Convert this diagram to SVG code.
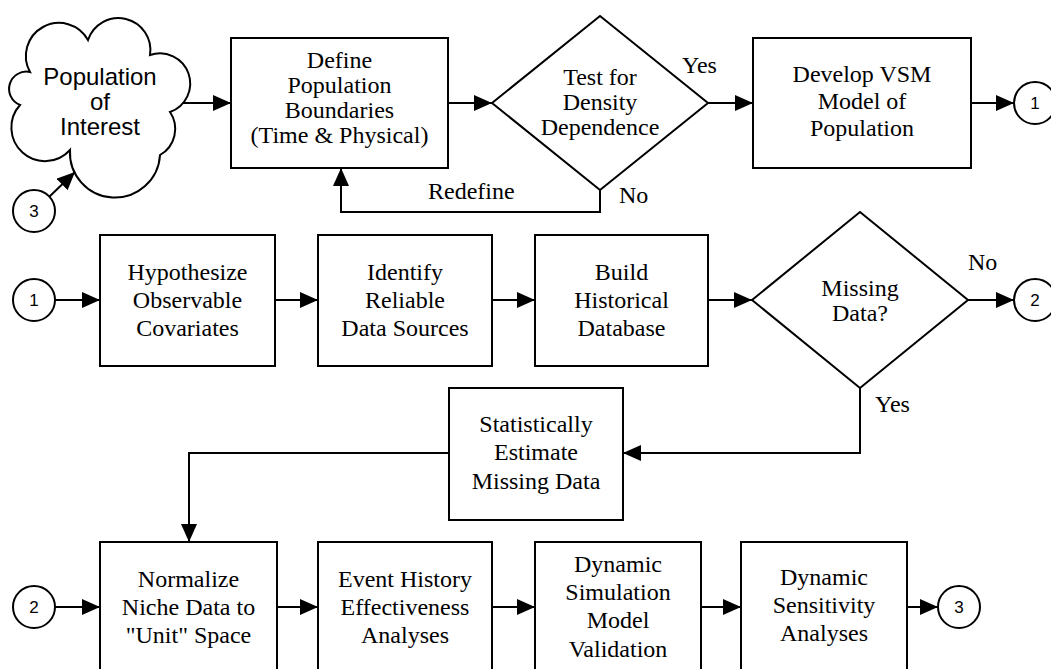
<svg xmlns="http://www.w3.org/2000/svg" width="1051" height="669" viewBox="0 0 1051 669">
<defs>
<marker id="ah" markerUnits="userSpaceOnUse" markerWidth="18" markerHeight="16" refX="18" refY="8" orient="auto">
<path d="M0,0 L18,8 L0,16 Z" fill="#000"/>
</marker>
<style>
.box{fill:#fff;stroke:#000;stroke-width:2}
.t{font-family:"Liberation Serif","Times New Roman",serif;font-size:24px;fill:#000;text-anchor:middle}
.lab{font-family:"Liberation Serif","Times New Roman",serif;font-size:24px;fill:#000}
.s{font-family:"Liberation Sans",Arial,sans-serif;font-size:24px;fill:#000;text-anchor:middle}
.c{font-family:"Liberation Sans",Arial,sans-serif;font-size:17px;fill:#000;text-anchor:middle}
.con path{fill:none;stroke:#000;stroke-width:2;marker-end:url(#ah)}
</style>
</defs>
<rect width="1051" height="669" fill="#fff"/>

<g class="con" id="connectors">
<path d="M183,103 H231"/>
<path d="M448,103 H492"/>
<path d="M708,103 H753"/>
<path d="M971,103 H1014"/>
<path d="M600,190 V212 H341 V168"/>
<path d="M49,197 L75,172"/>
<path d="M55,300 H100"/>
<path d="M275,300 H318"/>
<path d="M492,300 H535"/>
<path d="M708,300 H752"/>
<path d="M968,300 H1014"/>
<path d="M860,388 V453 H623"/>
<path d="M449,453 H189 V542"/>
<path d="M55,607 H100"/>
<path d="M277,607 H318"/>
<path d="M492,607 H535"/>
<path d="M701,607 H741"/>
<path d="M907,607 H938"/>
</g>

<g id="labels">
<text class="lab" x="682" y="73">Yes</text>
<text class="lab" x="619" y="203">No</text>
<text class="lab" x="428" y="199">Redefine</text>
<text class="lab" x="968" y="270">No</text>
<text class="lab" x="875" y="412">Yes</text>
</g>

<g id="cloud">
<path class="box" d="M30,72 A33,33 0 0 1 88,40 A32,32 0 0 1 150,55 A30.2,30.2 0 0 1 170,112 A30,30 0 0 1 160,155 A40.3,40.3 0 0 1 70,150 A33.6,33.6 0 0 1 20,105 A17.3,17.3 0 0 1 30,72 Z"/>
<text class="s" x="100" y="85">Population</text>
<text class="s" x="100" y="110">of</text>
<text class="s" x="100" y="135">Interest</text>
</g>

<g id="define">
<rect class="box" x="231" y="38" width="217" height="130"/>
<text class="t" x="339.5" y="68">Define</text>
<text class="t" x="339.5" y="93">Population</text>
<text class="t" x="339.5" y="118">Boundaries</text>
<text class="t" x="339.5" y="143">(Time &amp; Physical)</text>
</g>

<g id="density">
<polygon class="box" points="492,103 600,16 708,103 600,190"/>
<text class="t" x="600" y="85">Test for</text>
<text class="t" x="600" y="110">Density</text>
<text class="t" x="600" y="135">Dependence</text>
</g>

<g id="vsm">
<rect class="box" x="753" y="38" width="218" height="130"/>
<text class="t" x="862" y="82">Develop VSM</text>
<text class="t" x="862" y="109">Model of</text>
<text class="t" x="862" y="136">Population</text>
</g>

<g id="c1-top"><circle class="box" cx="1035" cy="103" r="21"/><text class="c" x="1035" y="109">1</text></g>
<g id="c3-left"><circle class="box" cx="34" cy="211" r="21"/><text class="c" x="34" y="217">3</text></g>
<g id="c1-left"><circle class="box" cx="34" cy="300" r="21"/><text class="c" x="34" y="306">1</text></g>
<g id="c2-right"><circle class="box" cx="1035" cy="300" r="21"/><text class="c" x="1035" y="306">2</text></g>
<g id="c2-left"><circle class="box" cx="34" cy="607" r="21"/><text class="c" x="34" y="613">2</text></g>
<g id="c3-right"><circle class="box" cx="959" cy="607" r="21"/><text class="c" x="959" y="613">3</text></g>

<g id="hypothesize">
<rect class="box" x="100" y="235" width="175" height="131"/>
<text class="t" x="187.5" y="280">Hypothesize</text>
<text class="t" x="187.5" y="308">Observable</text>
<text class="t" x="187.5" y="336">Covariates</text>
</g>

<g id="identify">
<rect class="box" x="318" y="235" width="174" height="131"/>
<text class="t" x="405" y="280">Identify</text>
<text class="t" x="405" y="308">Reliable</text>
<text class="t" x="405" y="336">Data Sources</text>
</g>

<g id="build">
<rect class="box" x="535" y="235" width="173" height="131"/>
<text class="t" x="621.5" y="280">Build</text>
<text class="t" x="621.5" y="308">Historical</text>
<text class="t" x="621.5" y="336">Database</text>
</g>

<g id="missing">
<polygon class="box" points="752,300 860,212 968,300 860,388"/>
<text class="t" x="860" y="296">Missing</text>
<text class="t" x="860" y="321">Data?</text>
</g>

<g id="estimate">
<rect class="box" x="449" y="388" width="174" height="132"/>
<text class="t" x="536" y="432">Statistically</text>
<text class="t" x="536" y="460">Estimate</text>
<text class="t" x="536" y="489">Missing Data</text>
</g>

<g id="normalize">
<rect class="box" x="100" y="542" width="177" height="130"/>
<text class="t" x="188.5" y="587">Normalize</text>
<text class="t" x="188.5" y="615">Niche Data to</text>
<text class="t" x="188.5" y="643">"Unit" Space</text>
</g>

<g id="event">
<rect class="box" x="318" y="542" width="174" height="130"/>
<text class="t" x="405" y="587">Event History</text>
<text class="t" x="405" y="615">Effectiveness</text>
<text class="t" x="405" y="643">Analyses</text>
</g>

<g id="simulation">
<rect class="box" x="535" y="542" width="166" height="130"/>
<text class="t" x="618" y="572">Dynamic</text>
<text class="t" x="618" y="600">Simulation</text>
<text class="t" x="618" y="628">Model</text>
<text class="t" x="618" y="657">Validation</text>
</g>

<g id="sensitivity">
<rect class="box" x="741" y="542" width="166" height="130"/>
<text class="t" x="824" y="585">Dynamic</text>
<text class="t" x="824" y="613">Sensitivity</text>
<text class="t" x="824" y="641">Analyses</text>
</g>
</svg>
